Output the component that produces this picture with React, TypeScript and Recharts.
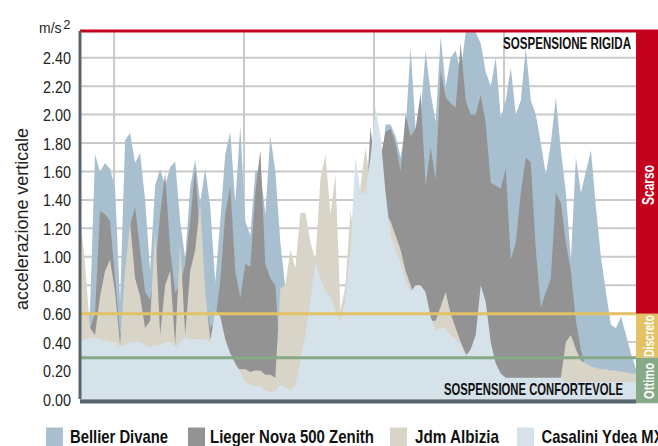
import React from 'react';
import { AreaChart, Area, XAxis, YAxis, CartesianGrid, ReferenceLine, ReferenceArea } from 'recharts';

// samples along the test run (one every ~5px of the original plot)
const BELLIER = [
  0.5, 0.5, 0.62, 1.72, 1.6, 1.66, 1.62, 1.48, 0.68, 1.82,
  1.87, 1.66, 1.73, 1.4, 0.9, 1.5, 1.62, 1.5, 1.63, 1.67,
  1.25, 0.99, 1.49, 1.68, 1.38, 1.62, 1.35, 0.82, 1.25, 1.72,
  1.88, 1.38, 1.92, 1.25, 1.15, 1.6, 1.62, 1.3, 1.85, 1.6,
  1.1, 0.78, 0.5, 0.5, 0.5, 0.5, 0.5, 0.5, 0.5, 0.5,
  0.5, 0.5, 0.5, 0.5, 0.5, 0.5, 0.5, 0.8, 1.2, 1.5,
  1.55, 1.93, 1.93, 1.85, 1.7, 1.9, 2.47, 1.9, 2.0, 2.45,
  2.15, 1.95, 2.55, 2.2, 2.4, 2.45, 2.3, 2.58, 2.58, 2.58,
  2.5, 2.3, 2.2, 2.4, 1.98, 2.1, 2.33, 2.0, 2.1, 2.47,
  2.1, 2.0, 1.8, 1.58, 1.8, 2.12, 1.75, 1.45, 0.98, 1.7,
  1.45, 1.6, 1.75, 1.35, 1.0, 0.75, 0.52, 0.5, 0.58, 0.45,
  0.32, 0.21,
];
const LIEGER = [
  0.6, 0.6, 0.5, 0.6, 1.32, 1.3, 1.25, 0.85, 0.45, 0.6,
  1.22, 1.35, 1.05, 0.75, 0.7, 0.9, 1.3, 1.59, 1.05, 0.75,
  0.8, 0.95, 1.25, 1.63, 1.1, 0.7, 0.5, 0.55, 0.83, 1.3,
  1.5, 0.9, 0.71, 0.95, 0.93, 1.45, 1.75, 0.95, 0.85, 0.8,
  0.25, 0.2, 0.2, 0.2, 0.2, 0.2, 0.2, 0.2, 0.2, 0.2,
  0.2, 0.2, 0.2, 0.2, 0.2, 0.2, 1.0, 1.3, 1.91, 1.6,
  1.7, 1.88, 1.9, 1.8, 1.6, 2.0, 1.85, 1.9, 2.15, 1.5,
  1.77, 1.54, 2.31, 2.12, 2.08, 2.05, 2.5, 2.1, 2.0, 2.0,
  2.14, 1.94, 1.52, 1.5, 1.48, 1.62, 0.98, 1.1, 1.45, 1.7,
  1.66, 1.05, 0.64, 0.75, 0.85, 1.45, 1.38, 1.1, 0.9, 0.55,
  0.35, 0.2, 0.15, 0.15, 0.15, 0.15, 0.15, 0.15, 0.15, 0.15,
  0.15, 0.15,
];
const JDM = [
  1.3, 0.95, 0.5, 0.45, 0.72, 0.9, 0.98, 0.75, 0.38, 0.9,
  1.24, 0.85, 0.72, 0.5, 0.55, 1.19, 0.45, 0.8, 0.9, 0.38,
  1.1, 0.45, 0.9, 1.05, 1.38, 0.75, 0.42, 0.55, 0.5, 0.35,
  0.25, 0.22, 0.21, 0.21, 0.19, 0.2, 0.2, 0.17, 0.17, 0.15,
  0.78, 0.8, 1.05, 0.92, 1.31, 1.31, 1.1, 0.98, 1.55, 1.72,
  1.3, 1.58, 0.62, 0.8, 1.33, 1.05, 1.5, 1.77, 1.5, 1.4,
  1.3, 1.3, 1.25, 1.15, 1.05, 0.9, 0.8, 0.7, 0.6, 0.55,
  0.55, 0.55, 0.65, 0.75, 0.6, 0.5, 0.4, 0.32, 0.3, 0.3,
  0.3, 0.3, 0.3, 0.2, 0.1, 0.1, 0.1, 0.1, 0.1, 0.1,
  0.1, 0.1, 0.1, 0.1, 0.1, 0.1, 0.15, 0.4, 0.45, 0.35,
  0.27, 0.25, 0.23, 0.22, 0.21, 0.21, 0.2, 0.2, 0.19, 0.19,
  0.18, 0.18,
];
const CASALINI = [
  0.4, 0.42, 0.43, 0.43, 0.42, 0.41, 0.4, 0.4, 0.37, 0.38,
  0.4, 0.4, 0.4, 0.38, 0.36, 0.38, 0.38, 0.4, 0.4, 0.36,
  0.4, 0.43, 0.42, 0.42, 0.42, 0.42, 0.4, 0.62, 0.58, 0.42,
  0.32, 0.25, 0.19, 0.12, 0.1, 0.09, 0.09, 0.06, 0.05, 0.06,
  0.1, 0.08, 0.06, 0.1, 0.27, 0.45, 0.7, 0.96, 0.85, 0.76,
  0.72, 0.62, 0.55, 0.7, 1.05, 1.7, 1.45, 1.45, 1.7, 2.05,
  1.85, 1.45, 1.15, 1.05, 0.95, 0.83, 0.75, 0.8, 0.8, 0.75,
  0.58, 0.48, 0.5, 0.5, 0.45, 0.42, 0.38, 0.3, 0.35, 0.45,
  0.8, 0.68, 0.4, 0.25, 0.18, 0.15, 0.15, 0.15, 0.15, 0.15,
  0.15, 0.15, 0.15, 0.15, 0.15, 0.15, 0.15, 0.12, 0.12, 0.12,
  0.12, 0.12, 0.12, 0.12, 0.12, 0.12, 0.12, 0.12, 0.12, 0.12,
  0.12, 0.12,
];

const Y_TICKS = [0, 0.2, 0.4, 0.6, 0.8, 1.0, 1.2, 1.4, 1.6, 1.8, 2.0, 2.2, 2.4];
const Y_MAX = 2.588;
const DISCRETO = 0.6;
const OTTIMO = 0.29;
const GRID_X = [6.8, 32.75, 58.7, 84.65];
const LAST = BELLIER.length - 1;
const X_MAX = LAST + 4.39; // room for the rating band on the right

const SERIES = [
  { key: 'bellier', name: 'Bellier Divane', color: '#a7bfcf', values: BELLIER },
  { key: 'lieger', name: 'Lieger Nova 500 Zenith', color: '#939393', values: LIEGER },
  { key: 'jdm', name: 'Jdm Albizia', color: '#d9d4c8', values: JDM },
  { key: 'casalini', name: 'Casalini Ydea MX', color: '#d5e2ea', values: CASALINI },
];

const data = BELLIER.map((_, i) => {
  const row: any = { i };
  SERIES.forEach((s) => { row[s.key] = s.values[i]; });
  return row;
});

const FONT = "'Liberation Sans', Arial, sans-serif";
const RED = '#c5001c';
const YELLOW = '#e2c265';
const GREEN = '#86a986';
const AXIS = '#58656f';

// legend layout: square x, text x, text width
const LEGEND_POS = [
  { sq: 46, tx: 70, w: 98 },
  { sq: 188, tx: 210, w: 164 },
  { sq: 390, tx: 415, w: 84 },
  { sq: 517, tx: 541.5, w: 122 },
];

const YTick = (props: any) => {
  const { x, y, payload } = props;
  return (
    <text x={x} y={y} dy={6.5} textAnchor="end" fontSize={17} fontFamily={FONT} fill="#222"
      textLength={28} lengthAdjust="spacingAndGlyphs">
      {payload.value.toFixed(2)}
    </text>
  );
};

export default function App() {
  return (
    <div style={{ position: 'absolute', left: 0, top: 0, width: 658, height: 446, background: '#fff', overflow: 'hidden' }}>
      <AreaChart width={658} height={446} data={data} margin={{ top: 31, right: 0, bottom: 47, left: 0 }}>
        <CartesianGrid stroke="#c9c9c9" strokeWidth={2} />
        <XAxis type="number" dataKey="i" domain={[0, X_MAX]} ticks={GRID_X} hide />
        <YAxis type="number" domain={[0, Y_MAX]} ticks={Y_TICKS} width={80} tickSize={0} tickMargin={9}
          tickLine={false} axisLine={{ stroke: AXIS, strokeWidth: 3 }} tick={<YTick />} allowDataOverflow />
        {SERIES.map((s) => (
          <Area key={s.key} dataKey={s.key} name={s.name} type="linear" stroke="none"
            fill={s.color} fillOpacity={1} isAnimationActive={false} dot={false} activeDot={false} />
        ))}
        <ReferenceArea x1={LAST} x2={X_MAX} y1={DISCRETO} y2={Y_MAX} fill={RED} fillOpacity={1} stroke="none" />
        <ReferenceArea x1={LAST} x2={X_MAX} y1={OTTIMO} y2={DISCRETO} fill={YELLOW} fillOpacity={1} stroke="none" />
        <ReferenceArea x1={LAST} x2={X_MAX} y1={-0.03} y2={OTTIMO} fill={GREEN} fillOpacity={1} stroke="none"
          ifOverflow="visible" />
        <ReferenceLine segment={[{ x: 0, y: DISCRETO }, { x: LAST, y: DISCRETO }]} stroke={YELLOW} strokeWidth={3} />
        <ReferenceLine segment={[{ x: 0, y: OTTIMO }, { x: LAST, y: OTTIMO }]} stroke={GREEN} strokeWidth={3} />
        <ReferenceLine segment={[{ x: 0, y: Y_MAX }, { x: X_MAX, y: Y_MAX }]} stroke={RED} strokeWidth={3} />
        <ReferenceLine segment={[{ x: 0, y: -0.018 }, { x: LAST, y: -0.018 }]} stroke={AXIS} strokeWidth={4}
          ifOverflow="visible" />
      </AreaChart>

      <svg width={658} height={446} style={{ position: 'absolute', left: 0, top: 0, pointerEvents: 'none' }}
        fontFamily={FONT}>
        <text x={39} y={33} fontSize={15} fill="#222" textLength={22.5} lengthAdjust="spacingAndGlyphs">m/s</text>
        <text x={63.3} y={28.5} fontSize={13} fill="#222">2</text>
        <text transform="translate(28,219) rotate(-90)" textAnchor="middle" fontSize={19} fill="#222"
          textLength={182} lengthAdjust="spacingAndGlyphs">accelerazione verticale</text>

        <text x={503} y={49} fontSize={16.5} fontWeight="bold" fill="#111"
          textLength={128} lengthAdjust="spacingAndGlyphs">SOSPENSIONE RIGIDA</text>
        <text x={444} y={395} fontSize={16.5} fontWeight="bold" fill="#111"
          textLength={179} lengthAdjust="spacingAndGlyphs">SOSPENSIONE CONFORTEVOLE</text>

        <text transform="translate(653.5,185) rotate(-90)" textAnchor="middle" fontSize={16} fontWeight="bold"
          fill="#fff" textLength={40} lengthAdjust="spacingAndGlyphs">Scarso</text>
        <text transform="translate(654,336) rotate(-90)" textAnchor="middle" fontSize={14} fontWeight="bold"
          fill="#fff" textLength={42} lengthAdjust="spacingAndGlyphs">Discreto</text>
        <text transform="translate(654,381) rotate(-90)" textAnchor="middle" fontSize={14} fontWeight="bold"
          fill="#fff" textLength={36} lengthAdjust="spacingAndGlyphs">Ottimo</text>

        {SERIES.map((s, k) => (
          <g key={s.key}>
            <rect x={LEGEND_POS[k].sq} y={427.5} width={17} height={19} fill={s.color} />
            <text x={LEGEND_POS[k].tx} y={442.5} fontSize={19} fontWeight="bold" fill="#111"
              textLength={LEGEND_POS[k].w} lengthAdjust="spacingAndGlyphs">{s.name}</text>
          </g>
        ))}
      </svg>
    </div>
  );
}
